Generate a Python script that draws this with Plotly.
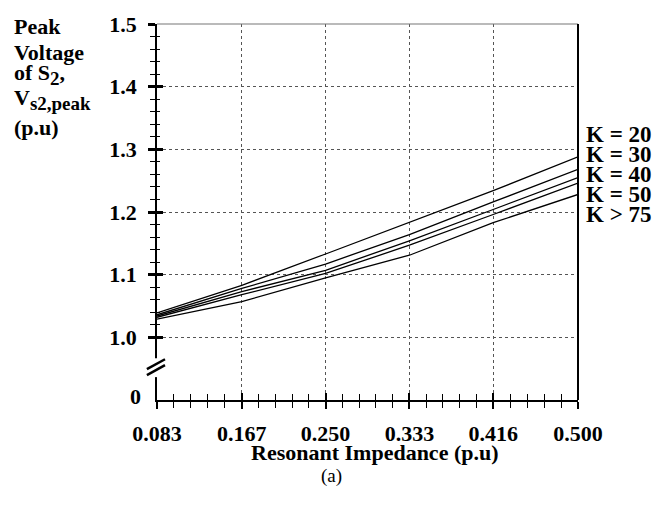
import numpy as np
import plotly.graph_objects as go

# ---- data ----
x_vals = [0.083, 0.167, 0.250, 0.333, 0.416, 0.500]
x_ticktext = ["0.083", "0.167", "0.250", "0.333", "0.416", "0.500"]
k20 = [1.039, 1.083, 1.133, 1.183, 1.234, 1.288]
k30 = [1.036, 1.078, 1.117, 1.164, 1.216, 1.268]
k40 = [1.034, 1.073, 1.107, 1.154, 1.204, 1.255]
k50 = [1.032, 1.068, 1.102, 1.147, 1.196, 1.246]
k75 = [1.029, 1.057, 1.095, 1.131, 1.183, 1.228]
series_labels = ["K = 20", "K = 30", "K = 40", "K = 50", "K > 75"]
series = [k20, k30, k40, k50, k75]
y_tickvals = [1.0, 1.1, 1.2, 1.3, 1.4, 1.5]
y_ticktext = ["1.0", "1.1", "1.2", "1.3", "1.4", "1.5"]
y_break_label = "0"
y_bottom = 0.9
x_title = "Resonant Impedance (p.u)"
SUB = '<sub><span style="font-size:19px">{}</span></sub>'
y_title_lines = ["Peak", "Voltage", "of S" + SUB.format("2") + ",",
                 "V" + SUB.format("s2,peak"), "(p.u)"]
caption = "(a)"

# ---- derived tick positions ----
x_minor = []
for a, b in zip(x_vals[:-1], x_vals[1:]):
    x_minor += list(np.linspace(a, b, 6)[1:-1])
y_minor = [v for v in np.round(np.arange(1.0, 1.5001, 0.02), 3) if round(v * 10, 6) != round(v * 10)]

SERIF = "Liberation Serif"
fig = go.Figure()
for s in series:
    fig.add_trace(go.Scatter(x=x_vals, y=s, mode="lines",
                             line=dict(color="black", width=1.3),
                             showlegend=False, hoverinfo="skip"))
# invisible trace to activate overlay axes (inside ticks)
fig.add_trace(go.Scatter(x=x_vals, y=k20, mode="lines", xaxis="x2", yaxis="y2",
                         opacity=0, showlegend=False, hoverinfo="skip"))

xr = [x_vals[0], x_vals[-1]]
yr = [y_bottom, 1.5]
common_tick = dict(family=SERIF, size=22, color="black", weight="bold")

fig.update_layout(
    width=665, height=516,
    margin=dict(l=157, r=87, t=22, b=116),
    paper_bgcolor="white", plot_bgcolor="white",
    xaxis=dict(range=xr, tickmode="array", tickvals=x_vals, ticktext=x_ticktext,
               ticks="outside", ticklen=7, tickwidth=2, tickcolor="black",
               showline=True, linecolor="black", linewidth=1.5,
               showgrid=True, gridcolor="#555", griddash="dot", gridwidth=1,
               zeroline=False, tickfont=common_tick, ticklabelstandoff=6,
               minor=dict(tickmode="array", tickvals=x_minor, ticks="outside",
                          ticklen=6, tickwidth=1, tickcolor="black", showgrid=False)),
    xaxis2=dict(range=xr, overlaying="x", anchor="y2", side="bottom",
                tickmode="array", tickvals=x_vals, ticks="inside", ticklen=7,
                tickwidth=2, tickcolor="black", showticklabels=False,
                showgrid=False, zeroline=False, showline=False,
                minor=dict(tickmode="array", tickvals=x_minor, ticks="inside",
                           ticklen=6, tickwidth=1, tickcolor="black", showgrid=False)),
    yaxis=dict(range=yr, tickmode="array", tickvals=y_tickvals, ticktext=y_ticktext,
               ticks="outside", ticklen=7, tickwidth=2.5, tickcolor="black",
               showline=True, linecolor="black", linewidth=1.5,
               showgrid=True, gridcolor="#555", griddash="dot", gridwidth=1,
               zeroline=False, tickfont=common_tick, ticklabelstandoff=7,
               minor=dict(tickmode="array", tickvals=y_minor, ticks="outside",
                          ticklen=5, tickwidth=1, tickcolor="black", showgrid=False)),
    yaxis2=dict(range=yr, overlaying="y", anchor="x2", side="left",
                tickmode="array", tickvals=y_tickvals, ticks="inside", ticklen=6,
                tickwidth=2.5, tickcolor="black", showticklabels=False,
                showgrid=False, zeroline=False, showline=False,
                minor=dict(tickmode="array", tickvals=y_minor, ticks="inside",
                           ticklen=3, tickwidth=1, tickcolor="black", showgrid=False)),
)

shapes = []
# top frame (thin grey) and right frame (black)
shapes.append(dict(type="line", xref="paper", yref="paper", x0=0, x1=1, y0=1, y1=1,
                   line=dict(color="#777", width=1.2), layer="above"))
shapes.append(dict(type="line", xref="paper", yref="paper", x0=1, x1=1, y0=0, y1=1,
                   line=dict(color="black", width=2), layer="above"))
# axis break on the y axis
shapes.append(dict(type="rect", xref="paper", yref="y", x0=-0.012, x1=0.012,
                   y0=0.9365, y1=0.9666, fillcolor="white", line=dict(width=0), layer="above"))
for off in (0.0, -0.0095):
    shapes.append(dict(type="line", xref="paper", yref="y", x0=-0.024, x1=0.019,
                       y0=0.9492 + off, y1=0.9650 + off,
                       line=dict(color="black", width=2.5), layer="above"))
fig.update_layout(shapes=shapes)

ann = []
# '0' label at the broken bottom of the y axis
ann.append(dict(text=y_break_label, xref="paper", yref="y", x=-0.033, y=y_bottom,
                xanchor="right", yanchor="middle", yshift=4, showarrow=False,
                font=common_tick))
# y title block
title_px = [24.5, 50, 72.5, 98, 126]
for txt, py in zip(y_title_lines, title_px):
    ann.append(dict(text=txt, xref="paper", yref="paper", x=(12 - 157) / 421,
                    y=(400 - py) / 378.3, xanchor="left", yanchor="middle",
                    showarrow=False, font=dict(family=SERIF, size=22, color="black", weight="bold")))
# series labels on the right
lab_px = [133, 153, 173, 193, 213]
for txt, py in zip(series_labels, lab_px):
    ann.append(dict(text=txt, xref="paper", yref="paper", x=(584 - 157) / 421,
                    y=(400 - py) / 378.3, xanchor="left", yanchor="middle",
                    showarrow=False, font=dict(family=SERIF, size=23, color="black", weight="bold")))
# x title
ann.append(dict(text=x_title, xref="paper", yref="paper", x=(375 - 157) / 421,
                y=(400 - 453) / 378.3, xanchor="center", yanchor="middle", showarrow=False,
                font=dict(family=SERIF, size=22, color="black", weight="bold")))
# caption
ann.append(dict(text=caption, xref="paper", yref="paper", x=(331.5 - 157) / 421,
                y=(400 - 476) / 378.3, xanchor="center", yanchor="middle", showarrow=False,
                font=dict(family=SERIF, size=19, color="black")))
fig.update_layout(annotations=ann)

fig.write_html("out.html")
